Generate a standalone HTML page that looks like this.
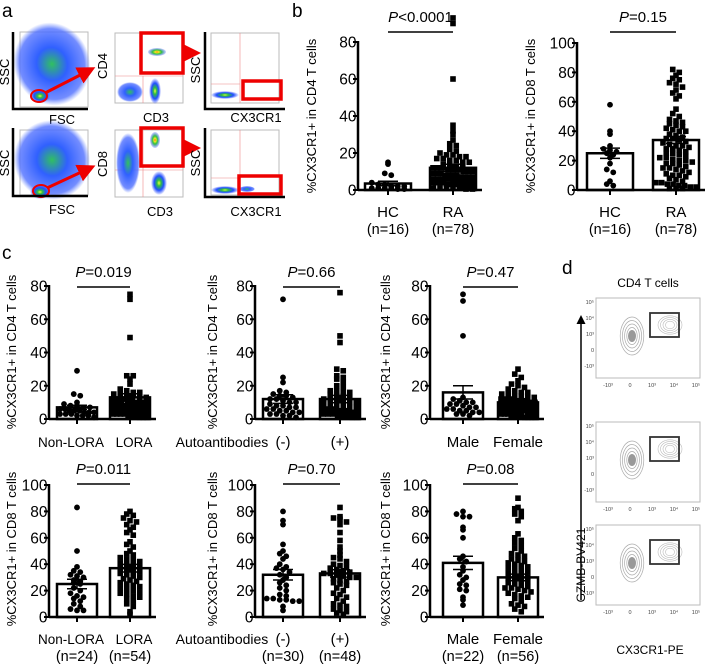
<!DOCTYPE html>
<html><head><meta charset="utf-8"><style>
html,body{margin:0;padding:0;background:#fff;}
svg{display:block;font-family:"Liberation Sans",sans-serif;}
</style></head><body>
<svg id="fig" width="708" height="666" viewBox="0 0 708 666" xmlns="http://www.w3.org/2000/svg">
<defs>
<radialGradient id="flowA" cx="50%" cy="50%" r="50%">
<stop offset="0" stop-color="#e8ff40"/><stop offset="0.25" stop-color="#30c040"/><stop offset="0.6" stop-color="#2050ff"/><stop offset="1" stop-color="#2040ff" stop-opacity="0"/>
</radialGradient>
<radialGradient id="flowB" cx="50%" cy="50%" r="50%">
<stop offset="0" stop-color="#30c060"/><stop offset="0.4" stop-color="#3060ff"/><stop offset="0.85" stop-color="#5070ff" stop-opacity="0.8"/><stop offset="1" stop-color="#6080ff" stop-opacity="0"/>
</radialGradient>
<radialGradient id="flowC" cx="50%" cy="50%" r="50%">
<stop offset="0" stop-color="#ff4020"/><stop offset="0.2" stop-color="#f0f020"/><stop offset="0.5" stop-color="#30c040"/><stop offset="1" stop-color="#2040ff" stop-opacity="0.2"/>
</radialGradient>
<marker id="arrR" markerWidth="6" markerHeight="6" refX="4" refY="3" orient="auto"><path d="M0,0 L6,3 L0,6 z" fill="#e00"/></marker>
<marker id="arrK" markerWidth="6" markerHeight="6" refX="4" refY="3" orient="auto"><path d="M0,0 L6,3 L0,6 z" fill="#000"/></marker>
</defs>

<text x="2" y="17" font-size="19">a</text>
<text x="292" y="17" font-size="19">b</text>
<text x="2" y="259" font-size="19">c</text>
<text x="562" y="274" font-size="19">d</text>

<g id="panelA">
  <g>
    <rect x="20" y="32" width="68" height="75" fill="#fff" stroke="#bbb"/>
    <ellipse cx="52" cy="64" rx="38" ry="42" fill="url(#flowB)" transform="rotate(-20 52 64)"/>
    <ellipse cx="40" cy="96" rx="10" ry="7" fill="url(#flowA)"/>
    <ellipse cx="39" cy="96" rx="8" ry="6" fill="none" stroke="#e00" stroke-width="2"/>
    <line x1="45" y1="93" x2="90" y2="70" stroke="#e00" stroke-width="3" marker-end="url(#arrR)"/>
    <path d="M13,32 V109 H88" fill="none" stroke="#000" stroke-width="2.5"/>
    <text x="9" y="72" font-size="13" transform="rotate(-90 9 72)" text-anchor="middle">SSC</text>
    <text x="62" y="124" font-size="13" text-anchor="middle">FSC</text>
  </g>
  <g>
    <rect x="115" y="33" width="68" height="70" fill="#fff" stroke="#bbb"/>
    <line x1="115" y1="76" x2="183" y2="76" stroke="#e88" stroke-width="0.6"/>
    <line x1="143" y1="76" x2="143" y2="103" stroke="#e88" stroke-width="0.6"/>
    <ellipse cx="130" cy="92" rx="13" ry="10" fill="url(#flowB)"/>
    <ellipse cx="155" cy="91" rx="6" ry="13" fill="url(#flowA)"/>
    <ellipse cx="157" cy="52" rx="9" ry="4" fill="url(#flowC)"/>
    <rect x="141" y="33" width="42" height="40" fill="none" stroke="#e00" stroke-width="3.5"/>
    <line x1="184" y1="53" x2="195" y2="53" stroke="#e00" stroke-width="3" marker-end="url(#arrR)"/>
    <text x="107" y="66" font-size="13" transform="rotate(-90 107 66)" text-anchor="middle">CD4</text>
    <text x="156" y="122" font-size="13" text-anchor="middle">CD3</text>
  </g>
  <g>
    <rect x="211" y="33" width="68" height="70" fill="#fff" stroke="#bbb"/>
    <line x1="211" y1="84" x2="240" y2="84" stroke="#e88" stroke-width="0.6"/>
    <line x1="240" y1="33" x2="240" y2="103" stroke="#e88" stroke-width="0.6"/>
    <ellipse cx="225" cy="95" rx="14" ry="4" fill="url(#flowA)"/>
    <rect x="243" y="81" width="38" height="18" fill="none" stroke="#e00" stroke-width="3.5"/>
    <path d="M205,32 V109 H285" fill="none" stroke="#000" stroke-width="2.5"/>
    <text x="200" y="70" font-size="13" transform="rotate(-90 200 70)" text-anchor="middle">SSC</text>
    <text x="256" y="122" font-size="13" text-anchor="middle">CX3CR1</text>
  </g>
  <g>
    <rect x="20" y="130" width="68" height="65" fill="#fff" stroke="#bbb"/>
    <ellipse cx="52" cy="160" rx="38" ry="40" fill="url(#flowB)" transform="rotate(-20 52 160)"/>
    <ellipse cx="40" cy="192" rx="10" ry="7" fill="url(#flowA)"/>
    <ellipse cx="41" cy="191" rx="8" ry="6" fill="none" stroke="#e00" stroke-width="2"/>
    <line x1="47" y1="188" x2="90" y2="168" stroke="#e00" stroke-width="3" marker-end="url(#arrR)"/>
    <path d="M13,128 V196 H88" fill="none" stroke="#000" stroke-width="2.5"/>
    <text x="9" y="163" font-size="13" transform="rotate(-90 9 163)" text-anchor="middle">SSC</text>
    <text x="62" y="214" font-size="13" text-anchor="middle">FSC</text>
  </g>
  <g>
    <rect x="115" y="130" width="68" height="67" fill="#fff" stroke="#bbb"/>
    <line x1="115" y1="170" x2="183" y2="170" stroke="#e88" stroke-width="0.6"/>
    <line x1="143" y1="130" x2="143" y2="197" stroke="#e88" stroke-width="0.6"/>
    <ellipse cx="128" cy="163" rx="12" ry="30" fill="url(#flowB)"/>
    <ellipse cx="159" cy="183" rx="8" ry="12" fill="url(#flowA)"/>
    <ellipse cx="155" cy="140" rx="5" ry="8" fill="url(#flowC)"/>
    <rect x="141" y="128" width="42" height="38" fill="none" stroke="#e00" stroke-width="3.5"/>
    <line x1="184" y1="148" x2="195" y2="148" stroke="#e00" stroke-width="3" marker-end="url(#arrR)"/>
    <text x="107" y="164" font-size="13" transform="rotate(-90 107 164)" text-anchor="middle">CD8</text>
    <text x="160" y="216" font-size="13" text-anchor="middle">CD3</text>
  </g>
  <g>
    <rect x="211" y="130" width="68" height="65" fill="#fff" stroke="#bbb"/>
    <line x1="211" y1="178" x2="240" y2="178" stroke="#e88" stroke-width="0.6"/>
    <line x1="240" y1="130" x2="240" y2="195" stroke="#e88" stroke-width="0.6"/>
    <ellipse cx="225" cy="190" rx="14" ry="4" fill="url(#flowA)"/>
    <ellipse cx="247" cy="189" rx="8" ry="3" fill="url(#flowB)"/>
    <rect x="239" y="176" width="42" height="18" fill="none" stroke="#e00" stroke-width="3.5"/>
    <path d="M205,128 V197 H285" fill="none" stroke="#000" stroke-width="2.5"/>
    <text x="200" y="163" font-size="13" transform="rotate(-90 200 163)" text-anchor="middle">SSC</text>
    <text x="256" y="216" font-size="13" text-anchor="middle">CX3CR1</text>
  </g>
</g>

<g id="charts"></g>

<g id="panelD">
  <text x="648" y="287" font-size="12" text-anchor="middle">CD4 T cells</text>
  <line x1="581" y1="600" x2="581" y2="318" stroke="#000" stroke-width="1.5" marker-end="url(#arrK)"/>
  <text x="585" y="565" font-size="12" transform="rotate(-90 585 565)" text-anchor="middle">GZMB-BV421</text>
  <text x="650" y="654" font-size="12" text-anchor="middle">CX3CR1-PE</text>
</g>
</svg>
<script>
const bCategories = ["HC", "RA"];
const bNLabels = ["(n=16)", "(n=78)"];
const bHC4 = [15,14,9,8,4,3,3,2,2,2,1,1,1,1,0.5,0.5];
const bRA4 = [93,90,60,35,32,30,27,25,24,22,21,20,19,19,18,18,17,17,16,16,15,15,14,14,13,13,12,12,12,11,11,11,10,10,10,9,9,9,8,8,8,8,7,7,7,7,6,6,6,6,5,5,5,5,5,4,4,4,4,4,3,3,3,3,3,2,2,2,2,2,2,1,1,1,1,1,0.5,0.5];
const bMeans4 = [3.5, 12];
const bSems4 = [1.2, 1.9];
const bHC8 = [58,40,38,30,28,27,26,25,24,22,18,14,12,6,4,3];
const bRA8 = [82,80,78,76,75,73,72,70,68,66,64,62,55,52,50,48,47,46,45,44,43,42,41,40,40,38,37,36,35,35,34,33,32,31,30,30,29,28,28,27,26,25,25,24,23,22,22,21,20,20,19,18,18,17,16,15,15,14,13,12,11,10,10,9,8,7,6,5,5,4,4,3,3,2,2,1,1,1];
const bMeans8 = [25, 34];
const bSems8 = [3.5, 2.3];

const loraCategories = ["Non-LORA", "LORA"];
const loraNLabels = ["(n=24)", "(n=54)"];
const nonLora4 = [29,15,14,10,9,8,8,7,7,6,6,5,5,5,4,4,4,3,3,3,2,2,2,1];
const lora4 = [75,72,49,26,26,24,21,18,17,16,16,15,15,14,14,13,13,12,12,12,11,11,10,10,10,9,9,9,8,8,8,7,7,7,6,6,6,5,5,5,5,4,4,4,3,3,3,3,2,2,2,1,1,1];
const loraMeans4 = [7, 13];
const loraSems4 = [1.3, 2.2];
const nonLora8 = [83,50,38,35,34,32,31,30,28,27,26,25,22,20,18,16,15,14,12,10,8,6,5,5];
const lora8 = [80,78,77,75,73,72,70,68,66,64,62,57,55,53,50,48,47,45,44,43,42,41,40,39,38,37,36,35,34,33,32,31,30,29,28,27,26,25,24,23,22,21,20,19,18,17,16,15,14,12,10,8,4,2];
const loraMeans8 = [25, 37];
const loraSems8 = [3.6, 2.9];

const autoCategories = ["(-)", "(+)"];
const autoNLabels = ["(n=30)", "(n=48)"];
const autoNeg4 = [72,25,22,17,16,15,14,14,13,12,12,11,10,10,9,8,8,7,7,6,6,5,5,4,4,3,3,2,2,1];
const autoPos4 = [76,50,46,30,29,26,25,24,22,20,19,17,17,16,16,15,14,14,13,12,12,11,11,10,10,9,9,8,8,7,7,6,6,6,5,5,5,4,4,4,3,3,3,2,2,2,1,1];
const autoMeans4 = [12, 12];
const autoSems4 = [2.6, 2.2];
const autoNeg8 = [80,73,70,55,50,48,46,44,40,38,37,36,34,32,30,28,26,24,22,20,17,16,14,14,13,13,12,12,8,5];
const autoPos8 = [83,76,75,74,72,70,64,58,53,50,47,45,44,42,40,39,38,37,36,35,34,33,33,32,31,30,30,29,28,27,26,25,24,22,20,18,17,15,14,12,10,9,8,6,5,4,3,2];
const autoMeans8 = [32, 33];
const autoSems8 = [4, 2.8];

const sexCategories = ["Male", "Female"];
const sexNLabels = ["(n=22)", "(n=56)"];
const male4 = [75,71,50,13,12,11,10,10,9,9,8,7,7,6,6,5,5,4,4,3,3,2];
const female4 = [30,27,25,23,21,20,19,18,17,16,16,15,15,14,14,13,13,12,12,12,11,11,11,10,10,10,9,9,9,8,8,8,7,7,7,6,6,6,5,5,5,5,4,4,4,3,3,3,2,2,2,2,1,1,1,1];
const sexMeans4 = [16, 10];
const sexSems4 = [4, 1];
const male8 = [80,78,76,76,68,66,60,46,44,42,38,35,32,30,28,25,24,21,20,15,13,9];
const female8 = [90,83,82,80,78,76,73,63,60,58,56,54,52,50,48,47,46,44,43,42,41,40,39,38,37,36,35,34,33,32,31,30,29,29,28,27,26,25,24,23,22,22,21,20,19,18,17,16,15,14,12,10,9,8,6,4];
const sexMeans8 = [41, 30];
const sexSems8 = [5, 2.5];

const ticks80 = [0,20,40,60,80];
const ticks100 = [0,20,40,60,80,100];
const pValues = ["<0.0001","=0.15","=0.019","=0.66","=0.47","=0.011","=0.70","=0.08"];

const NS = "http://www.w3.org/2000/svg";
const root = document.getElementById("charts");
function mk(tag, attrs, parent){
  const e = document.createElementNS(NS, tag);
  for (const k in attrs) e.setAttribute(k, attrs[k]);
  (parent||root).appendChild(e);
  return e;
}
function panel(c){
  const g = mk("g", {});
  
  
  const ymax = c.ticks[c.ticks.length-1];
  const y = v => c.y0 - v / ymax * (c.y0 - c.ytop);
  const right = c.centers[1] + c.bw/2 + 6;
  c.ticks.forEach(t => {
    const tl = mk("line", {x1:c.ax-5, x2:c.ax, y1:y(t), y2:y(t), stroke:"#000", "stroke-width":2}, g);
    
    
    const tx = mk("text", {x:c.ax-1.5, y:y(t)+5.5, "font-size":15.5, "text-anchor":"end"}, g);
    tx.textContent = t;
    
    
  });
  const ya = mk("line", {x1:c.ax, x2:c.ax, y1:c.ytop-1, y2:c.y0+1, stroke:"#000", "stroke-width":2.5}, g);
  
  
  const yl = mk("text", {x:c.ylx, y:c.yly, "font-size":13, "text-anchor":"middle", transform:`rotate(-90 ${c.ylx} ${c.yly})`}, g);
  yl.textContent = c.ylabel;
  
  
  c.groups.forEach((vals, gi) => {
    const cx = c.centers[gi];
    const bar = mk("rect", {x:cx-c.bw/2, y:y(c.means[gi]), width:c.bw, height:c.y0-y(c.means[gi]), fill:"#fff", stroke:"#000", "stroke-width":2.5}, g);
    
    
    const bins = {};
    vals.forEach(v => { const k = Math.round(y(v)/5); (bins[k] = bins[k] || []).push(v); });
    Object.keys(bins).forEach(k => {
      const arr = bins[k]; const n = arr.length;
      const step = Math.min(6.5, (c.bw-6)/Math.max(1,n-1));
      arr.forEach((v, i) => {
        const px = cx + (i - (n-1)/2) * step;
        const py = y(v);
        let m;
        if (c.shapes[gi] === "sq") m = mk("rect", {x:px-2.8, y:py-2.8, width:5.6, height:5.6, fill:"#000"}, g);
        else m = mk("circle", {cx:px, cy:py, r:2.9, fill:"#000"}, g);
        
        
      });
    });
    const lo = y(c.means[gi]-c.sems[gi]), hi = y(c.means[gi]+c.sems[gi]);
    const eb = mk("path", {d:`M${cx},${lo}V${hi}M${cx-10},${hi}H${cx+10}M${cx-10},${lo}H${cx+10}`, stroke:"#000", "stroke-width":1.5, fill:"none"}, g);
    
    
    const ct = mk("line", {x1:cx, x2:cx, y1:c.y0, y2:c.y0+5, stroke:"#000", "stroke-width":2}, g);
    
    
    const lx = c.labelX ? c.labelX[gi] : cx;
    const xl = mk("text", {x:lx, y:c.xly, "font-size":c.xfs || 15, "text-anchor":"middle"}, g);
    xl.textContent = c.cats[gi];
    
    
    if (c.nlabels) {
      const nl = mk("text", {x:cx, y:c.xly+17, "font-size":14.5, "text-anchor":"middle"}, g);
      nl.textContent = c.nlabels[gi];
      
      
    }
  });
  const xa = mk("line", {x1:c.ax, x2:right, y1:c.y0, y2:c.y0, stroke:"#000", "stroke-width":2.5}, g);
  
  
  if (c.extra) {
    const ex = mk("text", {x:c.extra[1], y:c.xly, "font-size":14, "text-anchor":"middle"}, g);
    ex.textContent = c.extra[0];
    
    
  }
  const pl = mk("line", {x1:c.centers[0], x2:c.centers[1], y1:c.py+10, y2:c.py+10, stroke:"#000", "stroke-width":1.5}, g);
  
  
  const pt = mk("text", {x:(c.centers[0]+c.centers[1])/2, y:c.py, "font-size":15, "text-anchor":"middle"}, g);
  pt.innerHTML = '<tspan font-style="italic">P</tspan>' + c.p;
  
  
}
const L4 = "%CX3CR1+ in CD4 T cells", L8 = "%CX3CR1+ in CD8 T cells";
panel({name:"chart-b-cd4", ax:358, y0:190, ytop:42, ticks:ticks80, centers:[388,453], bw:46, groups:[bHC4,bRA4], means:bMeans4, sems:bSems4, shapes:["c","sq"], cats:bCategories, nlabels:bNLabels, xly:217, p:pValues[0], py:22, ylabel:L4, ylx:316, yly:116});
panel({name:"chart-b-cd8", ax:577, y0:190, ytop:43, ticks:ticks100, centers:[610,676], bw:46, groups:[bHC8,bRA8], means:bMeans8, sems:bSems8, shapes:["c","sq"], cats:bCategories, nlabels:bNLabels, xly:217, p:pValues[1], py:22, ylabel:L8, ylx:535, yly:116});
panel({name:"chart-c-lora-cd4", ax:49, y0:419, ytop:286, ticks:ticks80, centers:[77,130], bw:40, groups:[nonLora4,lora4], means:loraMeans4, sems:loraSems4, shapes:["c","sq"], cats:loraCategories, labelX:[71,134], xfs:13.5, xly:447, p:pValues[2], py:277, ylabel:L4, ylx:16, yly:352});
panel({name:"chart-c-auto-cd4", ax:255, y0:419, ytop:286, ticks:ticks80, centers:[283,340], bw:40, groups:[autoNeg4,autoPos4], means:autoMeans4, sems:autoSems4, shapes:["c","sq"], cats:autoCategories, xly:447, extra:["Autoantibodies",222], p:pValues[3], py:277, ylabel:L4, ylx:217, yly:352});
panel({name:"chart-c-sex-cd4", ax:430, y0:419, ytop:286, ticks:ticks80, centers:[463,518], bw:40, groups:[male4,female4], means:sexMeans4, sems:sexSems4, shapes:["c","sq"], cats:sexCategories, xly:447, p:pValues[4], py:277, ylabel:L4, ylx:390, yly:352});
panel({name:"chart-c-lora-cd8", ax:49, y0:617, ytop:485, ticks:ticks100, centers:[77,130], bw:40, groups:[nonLora8,lora8], means:loraMeans8, sems:loraSems8, shapes:["c","sq"], cats:loraCategories, labelX:[71,134], xfs:13.5, nlabels:loraNLabels, xly:644, p:pValues[5], py:474, ylabel:L8, ylx:16, yly:549});
panel({name:"chart-c-auto-cd8", ax:255, y0:617, ytop:485, ticks:ticks100, centers:[283,340], bw:40, groups:[autoNeg8,autoPos8], means:autoMeans8, sems:autoSems8, shapes:["c","sq"], cats:autoCategories, nlabels:autoNLabels, xly:644, extra:["Autoantibodies",222], p:pValues[6], py:474, ylabel:L8, ylx:217, yly:549});
panel({name:"chart-c-sex-cd8", ax:430, y0:617, ytop:485, ticks:ticks100, centers:[463,518], bw:40, groups:[male8,female8], means:sexMeans8, sems:sexSems8, shapes:["c","sq"], cats:sexCategories, nlabels:sexNLabels, xly:644, p:pValues[7], py:474, ylabel:L8, ylx:390, yly:549});

const dTops = [298, 422, 525];
const dPanel = document.getElementById("panelD");
dTops.forEach((t, i) => {
  const g = mk("g", {}, dPanel);
  
  
  mk("rect", {x:596, y:t, width:104, height:80, fill:"#fff", stroke:"#bbb"}, g);
  for (let k = 1; k <= 4; k++) {
    mk("ellipse", {cx:632, cy:t+38, rx:3+k*2.2, ry:5+k*3.5, fill:"none", stroke:"#aaa", "stroke-width":0.7}, g);
    mk("ellipse", {cx:670, cy:t+27, rx:2+k*2.5, ry:2+k*1.8, fill:"none", stroke:"#bbb", "stroke-width":0.6}, g);
  }
  mk("ellipse", {cx:632, cy:t+38, rx:4, ry:6, fill:"#999"}, g);
  const box = mk("rect", {x:650, y:t+15, width:29, height:24, fill:"none", stroke:"#333", "stroke-width":1.8}, g);
  
  
  ["10⁵","10⁴","10³","0","-10³"].forEach((s, j) => {
    const tx = mk("text", {x:594, y:t+6+j*16, "font-size":5.5, "text-anchor":"end", fill:"#444"}, g);
    tx.textContent = s;
  });
  ["-10³","0","10³","10⁴","10⁵"].forEach((s, j) => {
    const tx = mk("text", {x:608+j*22, y:t+89, "font-size":5.5, "text-anchor":"middle", fill:"#444"}, g);
    tx.textContent = s;
  });
});
</script>
</body></html>
